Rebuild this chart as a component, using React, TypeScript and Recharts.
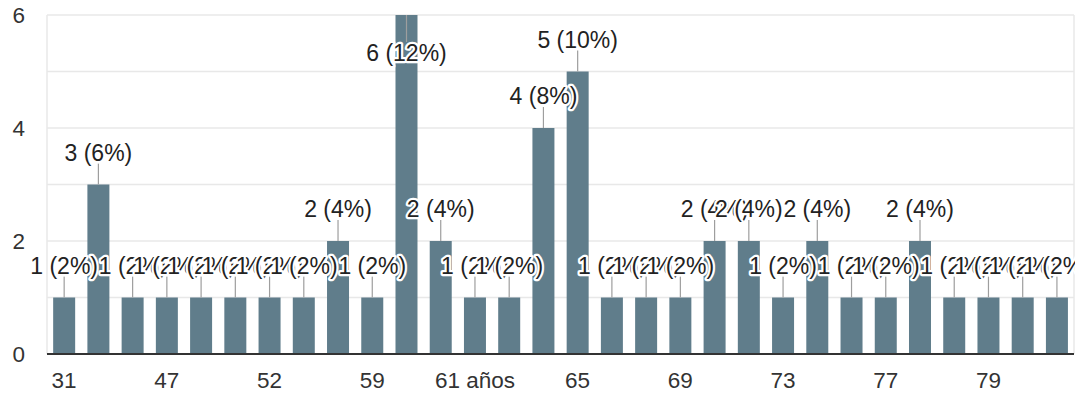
import React from "react";
import { BarChart, Bar, XAxis, YAxis, CartesianGrid, LabelList } from "recharts";

// Respondent ages and how many people gave each answer
const ages: string[] = [
  "31", "40", "45", "47", "48", "50", "52", "55", "58", "59",
  "60", "61", "61 años", "62", "64", "65", "66", "67", "69", "70",
  "72", "73", "74", "75", "77", "78", "78 años", "79", "80", "82",
];
const counts: number[] = [
  1, 3, 1, 1, 1, 1, 1, 1, 2, 1,
  6, 2, 1, 1, 4, 5, 1, 1, 1, 2,
  2, 1, 2, 1, 1, 2, 1, 1, 1, 1,
];
const yTicks: number[] = [0, 1, 2, 3, 4, 5, 6];

const total = counts.reduce((a, b) => a + b, 0);
const data = ages.map((age, i) => ({ age, count: counts[i] }));

const W = 1083;
const H = 398;
const PLOT_LEFT = 47;
const PLOT_RIGHT = 1074;
const FONT = "Arial, 'Liberation Sans', sans-serif";

const XTick = (props: any) => {
  const { x, y, payload } = props;
  return (
    <text x={x} y={y + 34} textAnchor="middle" fontSize={22.5} fill="#333" fontFamily={FONT}>
      {payload.value}
    </text>
  );
};

const YTick = (props: any) => {
  const { y, payload } = props;
  if (payload.value % 2 !== 0) return <g />;
  return (
    <text x={25} y={y} dy={8} textAnchor="end" fontSize={22.5} fill="#333" fontFamily={FONT}>
      {payload.value}
    </text>
  );
};

// Value label with a short leader line; flips inside the bar when there is no room above
const ValueLabel = (props: any) => {
  const { x, y, width, value } = props;
  const cx = x + width / 2;
  const pct = Math.round((value / total) * 100);
  const text = `${value} (${pct}%)`;
  const above = y - 45 > 0;
  const lineEnd = above ? y - 21 : y + 27;
  const textY = above ? y - 32 : y + 38;
  return (
    <g>
      <line x1={cx} y1={y} x2={cx} y2={lineEnd} stroke="#9e9e9e" strokeWidth={1.2} />
      <text
        x={cx}
        y={textY}
        dy={8}
        textAnchor="middle"
        fontSize={23}
        fill="#222"
        stroke="#fff"
        strokeWidth={4.5}
        strokeLinejoin="round"
        paintOrder="stroke"
        fontFamily={FONT}
      >
        {text}
      </text>
    </g>
  );
};

export default function App() {
  return (
    <div style={{ marginLeft: -8, marginTop: -8, width: W, height: H, background: "#fff" }}>
      <BarChart
        width={W}
        height={H}
        data={data}
        margin={{ top: 15, right: W - PLOT_RIGHT, left: 0, bottom: 0 }}
        barCategoryGap="18%"
      >
        <CartesianGrid
          stroke="#e8e8e8"
          strokeWidth={1.5}
          verticalPoints={[PLOT_LEFT, PLOT_RIGHT]}
        />
        <YAxis
          width={PLOT_LEFT}
          domain={[0, 6]}
          ticks={yTicks}
          axisLine={false}
          tickLine={false}
          tick={<YTick />}
          interval={0}
        />
        <XAxis
          dataKey="age"
          height={44}
          interval={2}
          axisLine={{ stroke: "#333", strokeWidth: 2 }}
          tickLine={false}
          tickSize={0}
          tickMargin={0}
          tick={<XTick />}
        />
        <Bar dataKey="count" fill="#607d8b" isAnimationActive={false}>
          <LabelList dataKey="count" content={<ValueLabel />} />
        </Bar>
      </BarChart>
    </div>
  );
}
